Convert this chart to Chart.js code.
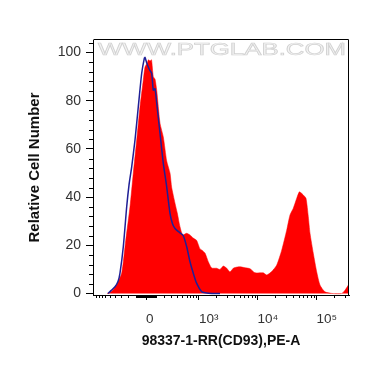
<!DOCTYPE html>
<html><head><meta charset="utf-8">
<script src="https://cdn.jsdelivr.net/npm/chart.js@4.4.0/dist/chart.umd.min.js"></script>
<style>html,body{margin:0;padding:0;background:#fff;}</style>
</head><body>
<canvas id="c" width="370" height="367"></canvas>
<script>
// Display-channel positions (0 = value 0 on the biexponential axis)
const redX = [-39,-36,-33,-29,-24.3,-20.3,-16,-12.7,-9.3,-6,-2.7,-1,1,2.5,4,5.5,7.3,9,10.7,14,17.3,20.7,24,25.7,29,31.3,34,36.7,40.7,44,47.3,50.7,54,56,59,62.3,65.7,70.7,74,77.3,80.7,84,87.3,91,94,98,104,109,117.3,120.7,125.7,130.7,135.7,140.7,144,147.3,150.7,153.3,155,157.3,160,162.3,164,167.3,170.7,174,179,187,195.7,199,202.3,203];
const redY = [0,0.5,1.5,4,8.5,22,36,50,63.7,77.5,88.6,94,95.5,97,96.5,97,90,89,84.4,70.7,65,55,50,44,37.5,33.4,27.7,24.3,25,24.3,23,22,18.5,18,16.8,13.2,10.6,10.5,10,11.4,10.5,9,10.5,11,11.1,10.8,10.3,8.6,8.6,7.7,9.1,11.8,18,26.3,32.6,35.4,39.5,42.2,41.8,40.9,39.5,31.9,25,16.7,9,3.5,0.7,0,0,1.4,3.5,4.5];
const blueX = [-38,-35,-31,-28,-26,-22.7,-19.3,-17,-14.3,-11,-7.7,-4.3,-1.7,-1,0.5,2.3,4,5.7,7.3,9,10.7,14,17.3,20.7,24,26.5,29,31.5,34,37.3,40.7,44,47.3,50.7,55.7,59,66,74];
const blueY = [0,1.2,2.8,5,8.5,19.4,36,45,52.6,63.7,77.5,91.4,97.6,98,96,94,92.5,91.4,84.4,85,79,66.5,54,44.3,33.3,29,27,26,25.2,24,19.4,13.2,8.4,4.2,0.7,0.3,0,0];

const xTickValues = [0,1000,10000,100000];
const xTickLabels = ['0','10³','10⁴','10⁵'];
const xMinorValues = [-900,-800,-700,-600,-500,-400,-300,-200,-100,-90,-80,-70,-60,-50,-40,-30,-20,-10,
  10,20,30,40,50,60,70,80,90,100,200,300,400,500,600,700,800,900,
  2000,3000,4000,5000,6000,7000,8000,9000,20000,30000,40000,50000,60000,70000,80000,90000,200000,300000];
const yTickValues = [0,20,40,60,80,100];
const yMinorValues = [4,8,12,16,24,28,32,36,44,48,52,56,64,68,72,76,84,88,92,96,104];

const BIEX_W = 257, BIEX_K = 25.62;
function disp(v){ return BIEX_K * Math.asinh(v / BIEX_W); }

const FONT = '"Liberation Sans", Arial, sans-serif';

const extras = {
  id: 'extras',
  beforeDatasetsDraw(chart){
    const ctx = chart.ctx;
    ctx.save();
    ctx.font = '17px ' + FONT;
    const w = ctx.measureText('WWW.PTGLAB.COM').width;
    ctx.translate(98, 55);
    ctx.scale(248 / w, 1);
    ctx.fillStyle = '#f4f4f4';
    ctx.strokeStyle = '#d2d2d2';
    ctx.lineWidth = 0.7;
    ctx.textBaseline = 'alphabetic';
    ctx.fillText('WWW.PTGLAB.COM', 0, 0);
    ctx.strokeText('WWW.PTGLAB.COM', 0, 0);
    ctx.restore();
  },
  afterDraw(chart){
    const ctx = chart.ctx, a = chart.chartArea;
    const xs = chart.scales.x, ys = chart.scales.y;
    ctx.save();
    ctx.strokeStyle = '#000';
    ctx.lineWidth = 1;
    ctx.beginPath();
    ctx.moveTo(Math.round(a.left) + 0.5, Math.round(a.top) - 0.5);
    ctx.lineTo(Math.round(a.right) - 0.5, Math.round(a.top) - 0.5);
    ctx.lineTo(Math.round(a.right) - 0.5, Math.round(a.bottom));
    ctx.stroke();
    ctx.beginPath();
    xMinorValues.forEach(v => {
      const p = Math.round(xs.getPixelForValue(disp(v))) + 0.5;
      ctx.moveTo(p, a.bottom);
      ctx.lineTo(p, a.bottom + 3);
    });
    yMinorValues.forEach(v => {
      const p = Math.round(ys.getPixelForValue(v)) + 0.5;
      ctx.moveTo(a.left, p);
      ctx.lineTo(a.left - 4, p);
    });
    ctx.stroke();
    ctx.restore();
  }
};

new Chart(document.getElementById('c'), {
  type: 'line',
  data: {
    datasets: [
      {
        label: 'Control',
        data: blueX.map((x, i) => ({x: x, y: blueY[i]})),
        borderColor: '#1f1f96',
        borderWidth: 1.5,
        pointRadius: 0,
        fill: false,
        tension: 0.2,
        order: 0
      },
      {
        label: 'CD93',
        data: redX.map((x, i) => ({x: x, y: redY[i]})),
        borderColor: '#ff0000',
        backgroundColor: '#ff0000',
        borderWidth: 0.5,
        pointRadius: 0,
        fill: 'origin',
        tension: 0.2,
        order: 1
      }
    ]
  },
  options: {
    responsive: false,
    animation: false,
    devicePixelRatio: 1,
    layout: { padding: { left: 22, right: 21, top: 40, bottom: 10 } },
    plugins: { legend: { display: false }, tooltip: { enabled: false } },
    scales: {
      x: {
        type: 'linear',
        min: -53, max: 203,
        afterBuildTicks(scale){ scale.ticks = xTickValues.map(v => ({value: disp(v)})); },
        afterFit(scale){ scale.height = 62; },
        border: { display: true, color: '#000', width: 1 },
        grid: { display: true, drawOnChartArea: false, drawTicks: true, tickLength: 5, tickColor: '#000', tickWidth: 1 },
        ticks: {
          autoSkip: false, maxRotation: 0, align: 'start', padding: 11,
          color: '#333', font: { family: FONT, size: 13.5 },
          callback: (v, i) => xTickLabels[i]
        },
        title: { display: true, text: '98337-1-RR(CD93),PE-A', color: '#111',
          font: { family: FONT, size: 14, weight: 'bold' }, padding: { top: 0, bottom: 7 } }
      },
      y: {
        type: 'linear',
        min: -0.6, max: 105.2,
        afterBuildTicks(scale){ scale.ticks = yTickValues.map(v => ({value: v})); },
        afterFit(scale){ scale.width = 71; },
        border: { display: true, color: '#000', width: 1 },
        grid: { display: true, drawOnChartArea: false, drawTicks: true, tickLength: 7, tickColor: '#000', tickWidth: 1 },
        ticks: {
          autoSkip: false, padding: 5, color: '#333', font: { family: FONT, size: 14 },
          callback: v => String(v)
        },
        title: { display: true, text: 'Relative Cell Number', color: '#111',
          font: { family: FONT, size: 15, weight: 'bold' }, padding: { top: 4, bottom: 0 } }
      }
    }
  },
  plugins: [extras]
});
</script>
</body></html>
